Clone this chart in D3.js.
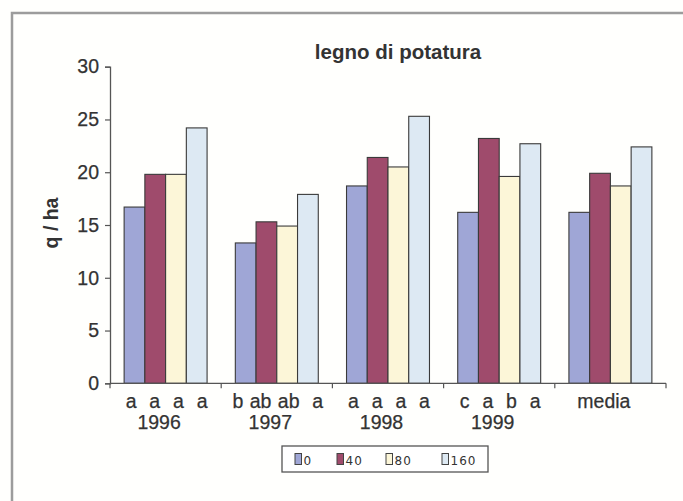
<!DOCTYPE html>
<html>
<head>
<meta charset="utf-8">
<script src="https://cdn.jsdelivr.net/npm/d3@7"></script>
<style>
  html, body { margin: 0; padding: 0; background: #ffffff; }
  svg { display: block; }
  text { font-family: "Liberation Sans", Arial, sans-serif; fill: #333; }
</style>
</head>
<body>
<svg id="chart" width="683" height="501"></svg>
<script>
// ---- data ----
const categories = ["1996", "1997", "1998", "1999", "media"];
const series = ["0", "40", "80", "160"];
const values0   = [16.7, 13.3, 18.7, 16.2, 16.2];
const values40  = [19.8, 15.3, 21.4, 23.2, 19.9];
const values80  = [19.8, 14.9, 20.5, 19.6, 18.7];
const values160 = [24.2, 17.9, 25.3, 22.7, 22.4];
const letterRows = ["a  a  a  a", "b ab ab  a", "a  a  a  a", "c  a  b  a", ""];
const yTicks = [0, 5, 10, 15, 20, 25, 30];
const colors = ["#9fa6d6", "#9f4b6c", "#fcf6d8", "#dde9f3"];
const title = "legno di potatura";
const yTitle = "q / ha";

const seriesValues = [values0, values40, values80, values160];

// ---- layout ----
const svg = d3.select("#chart");
const plotLeft = 110, plotRight = 666, plotTop = 66.7, plotBottom = 383.3;
const pad = 0.254;

svg.append("rect").attr("x", 0).attr("y", 0).attr("width", 683).attr("height", 501)
  .attr("fill", "#fffffd");

// outer frame
svg.append("rect")
  .attr("x", 12).attr("y", 13)
  .attr("width", 700).attr("height", 520)
  .attr("fill", "none").attr("stroke", "#9c9c9c").attr("stroke-width", 2.5);

const x0 = d3.scaleBand().domain(categories).range([plotLeft, plotRight])
  .paddingInner(pad).paddingOuter(pad / 2);
const x1 = d3.scaleBand().domain(series).range([0, x0.bandwidth()]);
const y = d3.scaleLinear().domain([0, 30]).range([plotBottom, plotTop]);

// bars
const groups = svg.append("g").selectAll("g")
  .data(categories).join("g")
  .attr("transform", d => `translate(${x0(d)},0)`);

groups.selectAll("rect")
  .data((d, i) => series.map((s, j) => ({ s, j, v: seriesValues[j][i] })))
  .join("rect")
  .attr("x", d => x1(d.s))
  .attr("y", d => y(d.v))
  .attr("width", x1.bandwidth())
  .attr("height", d => y(0) - y(d.v))
  .attr("fill", d => colors[d.j])
  .attr("stroke", "#3a3a3a")
  .attr("stroke-width", 1.1);

// y axis
const yAxis = svg.append("g")
  .attr("transform", `translate(${plotLeft},0)`)
  .call(d3.axisLeft(y).tickValues(yTicks).tickSize(5).tickPadding(6));
yAxis.select(".domain").attr("stroke", "#555").attr("stroke-width", 1.3);
yAxis.selectAll(".tick line").attr("stroke", "#555").attr("stroke-width", 1.2);
yAxis.selectAll(".tick text")
  .style("font-family", '"Liberation Sans", Arial, sans-serif')
  .style("font-size", "19.5px").attr("fill", "#333")
  .attr("stroke", "#333").attr("stroke-width", 0.25);

// x axis line and boundary ticks
const step = x0.step();
svg.append("line")
  .attr("x1", plotLeft).attr("x2", plotRight)
  .attr("y1", plotBottom).attr("y2", plotBottom)
  .attr("stroke", "#555").attr("stroke-width", 1.3);
const bounds = categories.map(c => x0(c) - step * pad / 2).concat([plotRight]);
svg.append("g").selectAll("line").data(bounds).join("line")
  .attr("x1", d => d).attr("x2", d => d)
  .attr("y1", plotBottom).attr("y2", plotBottom + 5)
  .attr("stroke", "#555").attr("stroke-width", 1.2);

// category labels
categories.forEach((c, i) => {
  const cx = x0(c) + x0.bandwidth() / 2;
  if (letterRows[i]) {
    svg.append("text")
      .attr("x", cx + 1).attr("y", 407.5)
      .attr("text-anchor", "middle")
      .attr("xml:space", "preserve")
      .style("white-space", "pre")
      .style("word-spacing", "1px")
      .style("font-size", "19.5px")
      .attr("stroke", "#333").attr("stroke-width", 0.25)
      .text(letterRows[i]);
  }
  svg.append("text")
    .attr("x", cx - 6.5).attr("y", c === "media" ? 407.5 : 428.5)
    .attr("text-anchor", "middle")
    .style("font-size", "19.5px")
    .attr("stroke", "#333").attr("stroke-width", 0.25)
    .text(c);
});

// title
svg.append("text")
  .attr("x", 398).attr("y", 59)
  .attr("text-anchor", "middle")
  .style("font-size", "20.5px").style("font-weight", "bold")
  .attr("fill", "#2a2a2a")
  .text(title);

// y title
svg.append("text")
  .attr("transform", "translate(58,223) rotate(-90)")
  .attr("text-anchor", "middle")
  .style("font-size", "19.5px").style("font-weight", "bold")
  .attr("fill", "#2a2a2a")
  .text(yTitle);

// legend
const lg = svg.append("g");
lg.append("rect")
  .attr("x", 282).attr("y", 446).attr("width", 206).attr("height", 26)
  .attr("fill", "#fff").attr("stroke", "#555").attr("stroke-width", 1.3);
const legX = [295, 337, 386, 442];
series.forEach((s, j) => {
  lg.append("rect")
    .attr("x", legX[j]).attr("y", 453.5).attr("width", 6.5).attr("height", 11)
    .attr("fill", colors[j]).attr("stroke", "#444").attr("stroke-width", 1);
  lg.append("text")
    .attr("x", legX[j] + 8.5).attr("y", 465)
    .style("font-family", '"DejaVu Sans", sans-serif')
    .style("font-size", "12px").style("letter-spacing", "1px")
    .attr("fill", "#666")
    .text(s);
});
</script>
</body>
</html>
